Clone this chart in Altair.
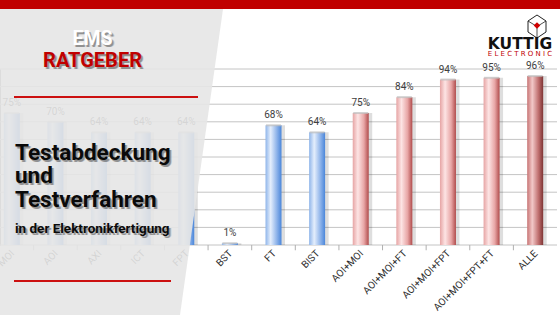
import altair as alt
import pandas as pd

# ---- data ----
categories = ["MOI", "AOI", "AXI", "ICT", "FPT", "BST", "FT", "BIST",
              "AOI+MOI", "AOI+MOI+FT", "AOI+MOI+FPT", "AOI+MOI+FPT+FT", "ALLE"]
values = [75, 70, 64, 64, 64, 1, 68, 64, 75, 84, 94, 95, 96]
groups = ["single"] * 8 + ["combo"] * 4 + ["all"]
grid_values = [0, 10, 20, 30, 40, 50, 60, 70, 80, 90, 100]

df = pd.DataFrame({"cat": categories, "val": values, "grp": groups})
df["lab"] = [f"{v}%" for v in values]
grid_df = pd.DataFrame({"g": grid_values})

W, H = 560, 315
xs = alt.Scale(domain=categories, range=[-10, 557], paddingInner=0, paddingOuter=0)
ys = alt.Scale(domain=[0, 100], range=[245, 69], nice=False, zero=False)

LABEL_FONT = "Roboto"
HEAD_FONT = "Roboto"
RED = "#c00000"

base = alt.Chart(df)

def X(**kw):
    return alt.X("cat:N", scale=xs, axis=None, **kw)

def Y(field="val:Q"):
    return alt.Y(field, scale=ys, axis=None)

grid = alt.Chart(grid_df).mark_rule(color="#c4c4c4", strokeWidth=1).encode(
    y=alt.Y("g:Q", scale=ys, axis=None), x=alt.value(0), x2=alt.value(557))

ticks = base.mark_rule(color="#b0b0b0", strokeWidth=1).encode(
    x=X(bandPosition=0), y=alt.datum(0, scale=ys), y2=alt.datum(-3))

shadow = base.mark_bar(color="#000000", opacity=0.13, size=18, xOffset=2.5).encode(
    x=X(), y=Y(), y2=alt.datum(0))

def grad(c):
    return alt.Gradient(gradient="linear", x1=0, x2=1, y1=0, y2=0,
                        stops=[alt.GradientStop(color=c[0], offset=0),
                               alt.GradientStop(color=c[1], offset=0.32),
                               alt.GradientStop(color=c[2], offset=0.7),
                               alt.GradientStop(color=c[3], offset=1)])

palettes = {
    "single": ["#8fb5ea", "#e4eefc", "#8fb4ea", "#4a86da"],
    "combo": ["#e6a4a4", "#fde4e4", "#e8a6a6", "#b04c4c"],
    "all": ["#c77474", "#f2c8c8", "#c07070", "#7e3434"],
}
bars = [base.transform_filter(alt.datum.grp == g).mark_bar(size=16, color=grad(c)).encode(
    x=X(), y=Y(), y2=alt.datum(0)) for g, c in palettes.items()]

caps = base.mark_tick(color="#bdbdbd", thickness=2, size=15, orient="horizontal").encode(
    x=X(), y=Y())

vlabels = base.mark_text(font=LABEL_FONT, fontSize=10, color="#404040",
                         baseline="bottom", dy=-5).encode(x=X(), y=Y(), text="lab:N")

xlabels = base.mark_text(font=LABEL_FONT, fontSize=10, color="#303030", angle=315,
                         align="right", baseline="middle", yOffset=7, xOffset=1).encode(
    x=X(), y=alt.datum(0, scale=ys), text="cat:N")

# ---- overlay panel ----
panel_df = pd.DataFrame({"px": [223, 180], "py": [9, 315]})
panel = alt.Chart(panel_df).mark_area(orient="horizontal", color="#e6e6e6", opacity=0.9).encode(
    y=alt.Y("py:Q", scale=None), x=alt.X("px:Q", scale=None), x2=alt.value(0))

one = pd.DataFrame({"a": [0]})
topbar = alt.Chart(one).mark_rect(color=RED).encode(
    x=alt.value(0), x2=alt.value(W), y=alt.value(0), y2=alt.value(9))
line1 = alt.Chart(one).mark_rect(color="#cc1010").encode(
    x=alt.value(14), x2=alt.value(198), y=alt.value(96), y2=alt.value(98))
line2 = alt.Chart(one).mark_rect(color="#cc1010").encode(
    x=alt.value(14), x2=alt.value(171), y=alt.value(280), y2=alt.value(282))

def txt(t, x, y, size, color, font="Roboto", weight="bold", align="left", shadow=True):
    d = pd.DataFrame({"t": [t]})
    layers = []
    if shadow:
        for off, op in [(2.4, 0.18), (1.5, 0.3)]:
            layers.append(alt.Chart(d).mark_text(font=font, fontSize=size, fontWeight=weight,
                                                 color="#222222", opacity=op, align=align,
                                                 baseline="alphabetic").encode(
                text="t:N", x=alt.value(x + off), y=alt.value(y + off)))
    layers.append(alt.Chart(d).mark_text(font=font, fontSize=size, fontWeight=weight,
                                         color=color, align=align, baseline="alphabetic").encode(
        text="t:N", x=alt.value(x), y=alt.value(y)))
    return layers

texts = []
texts += txt("EMS", 92.5, 45, 19.5, "#ffffff", align="center")
texts += txt("RATGEBER", 92.5, 67, 20, RED, align="center")
texts += txt("Testabdeckung", 15, 160, 22.5, "#0a0a0a", font=HEAD_FONT)
texts += txt("und", 15, 183, 22.5, "#0a0a0a", font=HEAD_FONT)
texts += txt("Testverfahren", 15, 207, 22.5, "#0a0a0a", font=HEAD_FONT)
texts += txt("in der Elektronikfertigung", 15, 233, 13.5, "#0a0a0a", font=HEAD_FONT)

# ---- logo ----
cx, cy = 537, 26.5
hex_df = pd.DataFrame({"i": list(range(7)),
                       "px": [cx, cx + 9, cx + 9, cx, cx - 9, cx - 9, cx],
                       "py": [15, 21, 32, 38, 32, 21, 15]})
hexline = alt.Chart(hex_df).mark_line(color="#222222", strokeWidth=1).encode(
    x=alt.X("px:Q", scale=None), y=alt.Y("py:Q", scale=None), order="i:Q")
inner_df = pd.DataFrame({"k": [0, 0, 1, 1, 2, 2],
                         "px": [cx, cx - 9, cx, cx + 9, cx, cx],
                         "py": [cy, 21, cy, 21, cy, 38]})
inner = alt.Chart(inner_df).mark_line(color="#222222", strokeWidth=0.8).encode(
    x=alt.X("px:Q", scale=None), y=alt.Y("py:Q", scale=None), detail="k:N")
diamond = alt.Chart(one).mark_point(shape="diamond", filled=True, color="#d00000",
                                    size=45, opacity=1).encode(
    x=alt.value(cx), y=alt.value(cy - 1))
kuttig = alt.Chart(pd.DataFrame({"t": ["KUTTIG"]})).mark_text(
    font="DejaVu Sans", fontWeight="bold", fontSize=15.5, color="#111111",
    align="center", baseline="alphabetic").encode(
    text="t:N", x=alt.value(520), y=alt.value(49))
electronic = alt.Chart(pd.DataFrame({"t": ["E L E C T R O N I C"]})).mark_text(
    font="DejaVu Sans", fontSize=7, color=RED, align="center", baseline="alphabetic").encode(
    text="t:N", x=alt.value(520), y=alt.value(56))

chart = alt.layer(
    grid, ticks, shadow, *bars, caps, vlabels, xlabels,
    panel, topbar, line1, line2, *texts,
    hexline, inner, diamond, kuttig, electronic
).resolve_scale(x="independent", y="independent").properties(
    width=W, height=H, autosize=alt.AutoSizeParams(type="none"), padding=0,
    background="#ffffff"
).configure_view(stroke=None)

chart.save("out.html", embed_options={"renderer": "svg", "actions": False})
